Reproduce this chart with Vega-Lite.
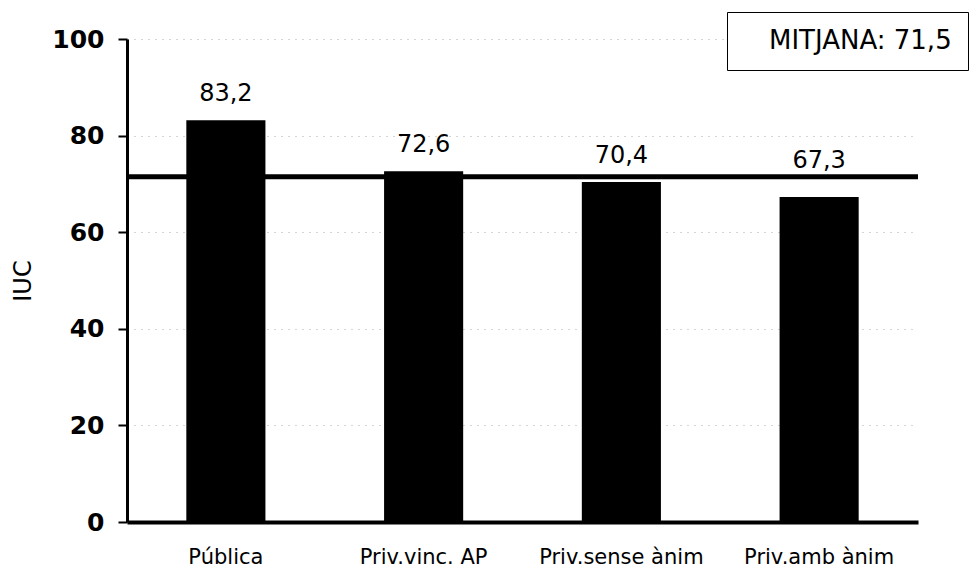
{
  "$schema": "https://vega.github.io/schema/vega-lite/v6.json",
  "autosize": "none",
  "width": 791,
  "height": 483,
  "padding": {"left": 127, "top": 39, "right": 51, "bottom": 49},
  "background": "white",
  "config": {
    "font": "DejaVu Sans",
    "view": {"stroke": null}
  },
  "datasets": {
    "barres": [
      {"categoria": "Pública", "IUC": 83.2, "etiqueta": "83,2"},
      {"categoria": "Priv.vinc. AP", "IUC": 72.6, "etiqueta": "72,6"},
      {"categoria": "Priv.sense ànim", "IUC": 70.4, "etiqueta": "70,4"},
      {"categoria": "Priv.amb ànim", "IUC": 67.3, "etiqueta": "67,3"}
    ],
    "mitjana": [
      {"valor": 71.5, "etiqueta": "MITJANA: 71,5"}
    ]
  },
  "layer": [
    {
      "data": {"name": "barres"},
      "mark": {"type": "bar", "color": "black"},
      "encoding": {
        "x": {
          "field": "categoria", "type": "nominal", "sort": null,
          "scale": {"paddingInner": 0.6, "paddingOuter": 0.3},
          "axis": {
            "title": null, "labelAngle": 0, "labelFontSize": 21, "labelColor": "black",
            "ticks": false, "labelPadding": 24, "domainColor": "black", "domainWidth": 4,
            "grid": false
          }
        },
        "y": {
          "field": "IUC", "type": "quantitative",
          "scale": {"domain": [0, 100]},
          "axis": {
            "title": "IUC", "titleFontSize": 24, "titleFontWeight": "normal", "titleColor": "black",
            "titlePadding": 16,
            "values": [0, 20, 40, 60, 80, 100],
            "labelFontSize": 25, "labelFontWeight": "bold", "labelColor": "black",
            "labelPadding": 14, "tickSize": 9, "tickWidth": 2, "tickColor": "black",
            "domainColor": "black", "domainWidth": 3,
            "grid": true, "gridColor": "#888888", "gridDash": [1, 6], "gridWidth": 1, "gridOpacity": 0.7
          }
        }
      }
    },
    {
      "data": {"name": "barres"},
      "transform": [{"filter": "datum.IUC > 71.5"}],
      "mark": {"type": "text", "dy": -19, "baseline": "alphabetic", "fontSize": 24, "color": "black"},
      "encoding": {
        "x": {"field": "categoria", "type": "nominal", "sort": null},
        "y": {"field": "IUC", "type": "quantitative"},
        "text": {"field": "etiqueta"}
      }
    },
    {
      "data": {"name": "barres"},
      "transform": [{"filter": "datum.IUC <= 71.5 && datum.IUC > 69"}],
      "mark": {"type": "text", "dy": -19, "baseline": "alphabetic", "fontSize": 24, "color": "black"},
      "encoding": {
        "x": {"field": "categoria", "type": "nominal", "sort": null},
        "y": {"field": "IUC", "type": "quantitative"},
        "text": {"field": "etiqueta"}
      }
    },
    {
      "data": {"name": "barres"},
      "transform": [{"filter": "datum.IUC <= 69"}],
      "mark": {"type": "text", "dy": -29, "baseline": "alphabetic", "fontSize": 24, "color": "black"},
      "encoding": {
        "x": {"field": "categoria", "type": "nominal", "sort": null},
        "y": {"field": "IUC", "type": "quantitative"},
        "text": {"field": "etiqueta"}
      }
    },
    {
      "data": {"name": "mitjana"},
      "mark": {"type": "rule", "strokeWidth": 5},
      "encoding": {
        "y": {"field": "valor", "type": "quantitative"},
        "color": {
          "field": "etiqueta", "type": "nominal",
          "scale": {"range": ["black"]},
          "legend": {
            "title": null, "orient": "none", "legendX": 600, "legendY": -27,
            "strokeColor": "black", "fillColor": "white",
            "padding": 16, "labelOffset": 0, "labelFontSize": 26, "labelColor": "black",
            "labelLimit": 0,
            "symbolSize": 0, "symbolStrokeWidth": 0, "symbolOpacity": 0, "symbolType": "square",
            "encoding": {"legend": {"update": {"strokeWidth": {"value": 1.5}}}}
          }
        }
      }
    }
  ]
}
